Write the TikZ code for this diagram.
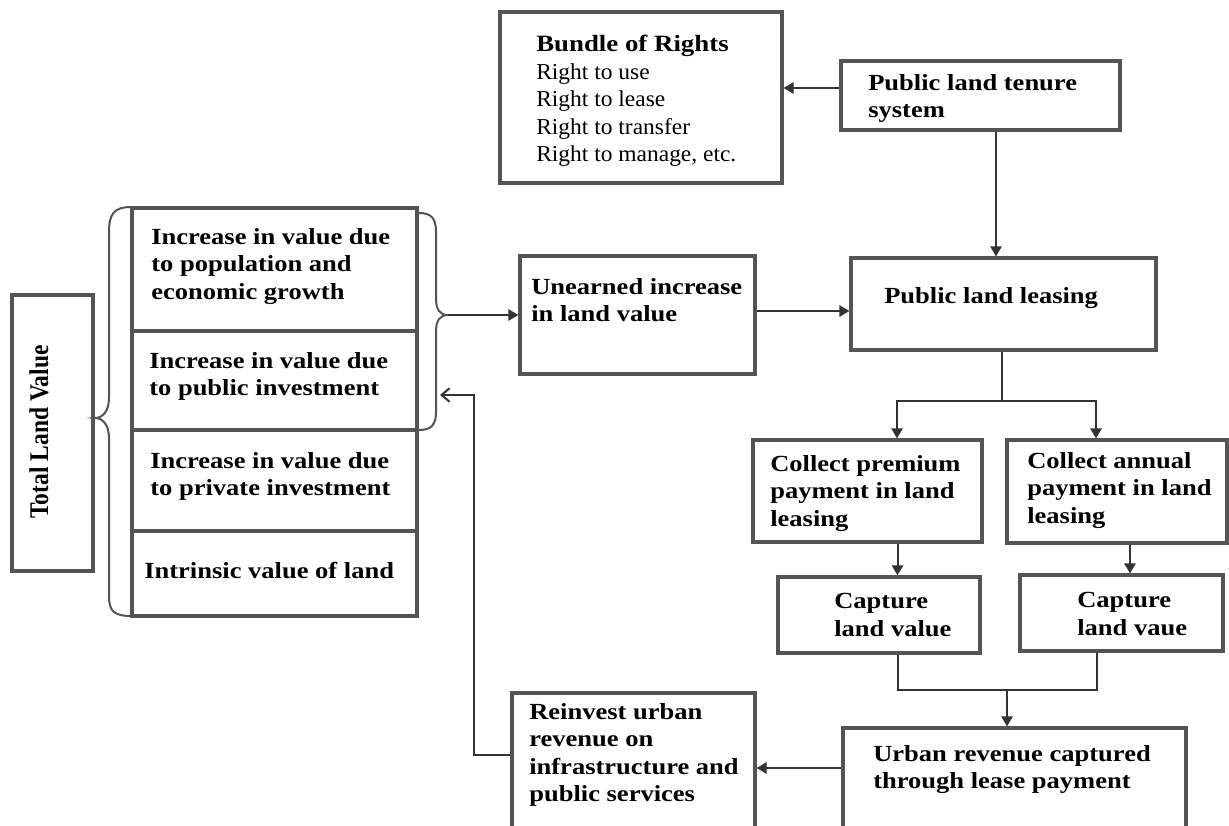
\documentclass[tikz,border=0pt]{standalone}
\usepackage{fontspec}
\setmainfont{Liberation Serif}
\newfontfamily\boxfont[FakeStretch=1.15]{Liberation Serif}
\newfontfamily\listfont[FakeStretch=1.03]{Liberation Serif}
\newfontfamily\sidefont[FakeStretch=0.87]{Liberation Serif}
\usetikzlibrary{arrows.meta,calc,fit}
\definecolor{r90g90b90}{rgb}{0.33,0.33,0.33}
\definecolor{r60g60b60}{rgb}{0.2,0.2,0.2}
\tikzset{
  box/.style={draw=r90g90b90, line width=0.08cm, inner sep=0pt},
  boxtext/.style={anchor=north west, inner sep=0pt, align=left,
    font=\boxfont\bfseries\fontsize{16.4}{19.56}\selectfont},
  link/.style={draw=r60g60b60, line width=0.05cm},
  arr/.style={link, -{Triangle[length=0.25cm,width=0.28cm]}},
  backarr/.style={link, -{Straight Barb[length=0.2cm,width=0.34cm]}},
  bracket/.style={draw=r90g90b90, line width=0.05cm}
}
\begin{document}
\begin{tikzpicture}[x=0.025cm,y=-0.025cm]
  \clip (0,0) rectangle (1229,825);
  \fill[white] (0,0) rectangle (1229,825);

  % Drawing box Bundle of Rights
  \node[box, fit={(500,12) (782,183)}] (bundle) {};
  \node[anchor=north west, inner sep=0pt, align=left,
    font=\listfont\fontsize{16.2}{19.56}\selectfont] (bundletxt) at (536,35)
    {{\boxfont\bfseries\fontsize{16.6}{19.56}\selectfont Bundle of Rights}\\
     Right to use\\ Right to lease\\ Right to transfer\\ Right to manage, etc.};

  % Drawing box tenure
  \node[box, fit={(841,61) (1120,130)}] (tenure) {};
  \node[boxtext] (tenuretxt) at (868,74) {Public land tenure\\system};

  % Drawing box leasing
  \node[box, fit={(851,258) (1156,350)}] (leasing) {};
  \node[boxtext] (leasingtxt) at (884,287) {Public land leasing};

  % Drawing box unearned
  \node[box, fit={(520,256) (755,374)}] (unearned) {};
  \node[boxtext] (unearnedtxt) at (531,278) {Unearned increase\\in land value};

  % Drawing total land value
  \node[box, fit={(12,295) (93,571)}] (total) {};
  \node[inner sep=0pt, rotate=90, font=\sidefont\bfseries\fontsize{19.2}{23}\selectfont]
    (totaltxt) at (39,432) {Total Land Value};

  % Drawing the value stack
  \node[box, fit={(132,208) (417,331)}] (growth) {};
  \node[box, fit={(132,331) (417,430)}] (public) {};
  \node[box, fit={(132,430) (417,531)}] (private) {};
  \node[box, fit={(132,531) (417,616)}] (intrinsic) {};
  \node[boxtext] (growthtxt) at (151,228) {Increase in value due\\to population and\\economic growth};
  \node[boxtext] (publictxt) at (149,352) {Increase in value due\\to public investment};
  \node[boxtext] (privatetxt) at (150,452) {Increase in value due\\to private investment};
  \node[boxtext] (intrinsictxt) at (144,562) {Intrinsic value of land};

  % Drawing braces
  \draw[bracket] (131,207) .. controls (114,207) and (109,214) .. (109,232)
    -- (109,398) .. controls (109,412) and (102,418) .. (95,418)
    .. controls (102,418) and (109,424) .. (109,438)
    -- (109,596) .. controls (109,611) and (114,616) .. (131,616);
  \draw[bracket] (419,213) .. controls (431,213) and (436,218) .. (436,232)
    -- (436,298) .. controls (436,310) and (440,315) .. (448,315)
    .. controls (440,315) and (436,320) .. (436,332)
    -- (436,412) .. controls (436,425) and (431,430) .. (419,430);
  \coordinate (rbtip) at (448,315);
  \coordinate (rbend) at (440,395);

  % Drawing collect boxes
  \node[box, fit={(753,440) (982,542)}] (premium) {};
  \node[boxtext] (premiumtxt) at (770,455) {Collect premium\\payment in land\\leasing};
  \node[box, fit={(1007,440) (1227,543)}] (annual) {};
  \node[boxtext] (annualtxt) at (1027,452) {Collect annual\\payment in land\\leasing};

  % Drawing capture boxes
  \node[box, fit={(778,577) (980,653)}] (capone) {};
  \node[boxtext] (caponetxt) at (834,593) {Capture\\land value};
  \node[box, fit={(1020,575) (1223,651)}] (captwo) {};
  \node[boxtext] (captwotxt) at (1077,592) {Capture\\land vaue};

  % Drawing revenue boxes
  \node[box, fit={(843,728) (1186,845)}] (urban) {};
  \node[boxtext] (urbantxt) at (873,745) {Urban revenue captured\\through lease payment};
  \node[box, fit={(512,693) (755,845)}] (reinvest) {};
  \node[boxtext] (reinvesttxt) at (529,703) {Reinvest urban\\revenue on\\infrastructure and\\public services};

  % Drawing connectors
  \draw[arr] ($(tenure.west)+(0,-7.5)$) coordinate (t1) -- (t1 -| bundle.east);
  \draw[arr] ($(tenure.south)+(15.5,0)$) coordinate (t2) -- (t2 |- leasing.north);
  \draw[arr] (rbtip) -- (rbtip -| unearned.west);
  \draw[arr] ($(unearned.east)+(0,-4)$) coordinate (u0) -- (u0 -| leasing.west);
  \draw[link] ($(leasing.south)+(-1.5,0)$) -- ++(0,49) coordinate (split);
  \draw[arr] (split) -| ($(premium.north)+(29.5,0)$);
  \draw[arr] (split) -| ($(annual.north)+(-21,0)$);
  \draw[arr] ($(premium.south)+(30,0)$) coordinate (c1) -- (c1 |- capone.north);
  \draw[arr] ($(annual.south)+(13,0)$) coordinate (c2) -- (c2 |- captwo.north);
  \coordinate (join) at ($(urban.north)+(-7.5,-36)$);
  \draw[link] ($(capone.south)+(19,0)$) |- (join) -| ($(captwo.south)+(-25,0)$);
  \draw[arr] (join) -- (join |- urban.north);
  \draw[arr] ($(urban.west)+(0,-18.5)$) coordinate (u1) -- (u1 -| reinvest.east);
  \draw[backarr] ($(reinvest.west)+(0,-14)$) -| ($(rbend)+(34,0)$) -- (rbend);
\end{tikzpicture}
\end{document}
